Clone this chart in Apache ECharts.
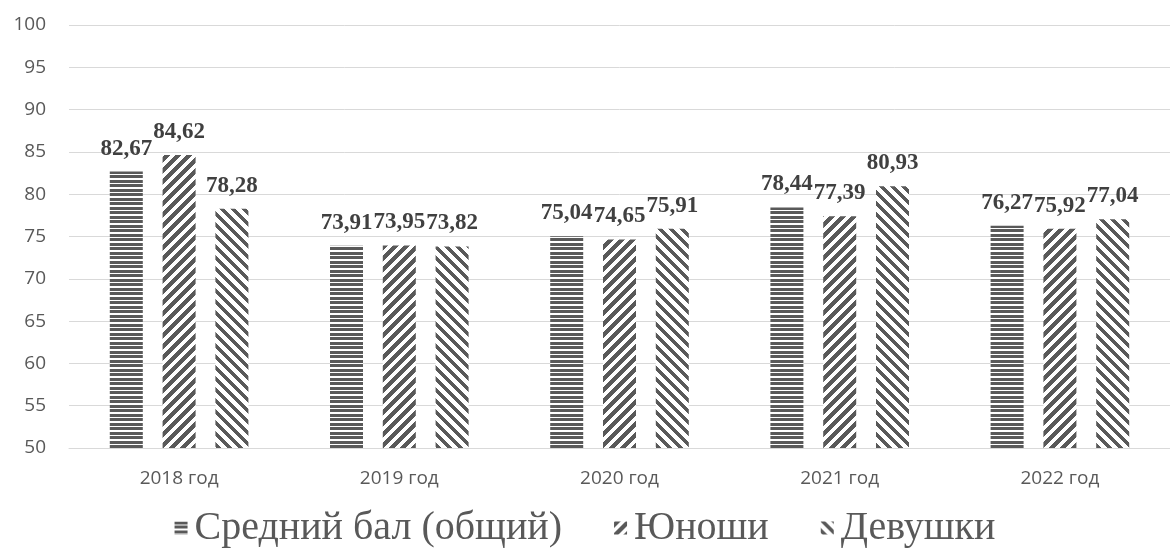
<!DOCTYPE html>
<html>
<head>
<meta charset="utf-8">
<style>
  html, body { margin: 0; padding: 0; background: #ffffff; }
  #chart { width: 1170px; height: 556px; }
</style>
<script src="https://cdn.jsdelivr.net/npm/echarts@6/dist/echarts.min.js"></script>
</head>
<body>
<div id="chart"></div>
<script>
// Years on the category axis
const categories = ['2018 год', '2019 год', '2020 год', '2021 год', '2022 год'];

// Series names (legend)
const seriesNames = ['Средний бал (общий)', 'Юноши', 'Девушки'];

// Average scores per year
const avgAll   = [82.67, 73.91, 75.04, 78.44, 76.27];
const avgBoys  = [84.62, 73.95, 74.65, 77.39, 75.92];
const avgGirls = [78.28, 73.82, 75.91, 80.93, 77.04];

// Value axis range
const yMin = 50;
const yMax = 100;
const yStep = 5;

const INK = '#595959';

// Build a repeating pixel pattern; test(x, y) decides whether a pixel is dark
function makePattern(size, test) {
  const c = document.createElement('canvas');
  c.width = size; c.height = size;
  const ctx = c.getContext('2d');
  ctx.fillStyle = '#ffffff';
  ctx.fillRect(0, 0, size, size);
  ctx.fillStyle = INK;
  for (let y = 0; y < size; y++) {
    for (let x = 0; x < size; x++) {
      if (test(x, y)) ctx.fillRect(x, y, 1, 1);
    }
  }
  return { image: c, repeat: 'repeat' };
}

// Horizontal stripes of uneven thickness
const stripeRows = [1, 1, 1, 0, 1, 1, 1, 0, 0];
const patHorizontal = makePattern(9, (x, y) => stripeRows[y % 9] === 1);
// Wide upward diagonal "/"
const patUp = makePattern(11, (x, y) => ((x + y) % 11) < 6);
// Wide downward diagonal "\"
const patDown = makePattern(11, (x, y) => (((x - y) % 11) + 11) % 11 < 5);

const patterns = [patHorizontal, patUp, patDown];
const values = [avgAll, avgBoys, avgGirls];

const fmt = v => v.toFixed(2).replace('.', ',');

const chart = echarts.init(document.getElementById('chart'), null, { renderer: 'canvas' });

chart.setOption({
  animation: false,
  backgroundColor: '#ffffff',
  grid: { left: 69, top: 25, width: 1112, height: 423 },
  legend: {
    left: 'center',
    top: 503,
    itemWidth: 13,
    itemHeight: 13,
    itemGap: 52,
    icon: 'rect',
    textStyle: {
      fontFamily: 'Liberation Serif',
      fontSize: 40,
      color: INK,
      padding: [0, 0, 0, 2]
    },
    data: seriesNames
  },
  xAxis: {
    type: 'category',
    data: categories,
    axisLine: { show: true, lineStyle: { color: '#d9d9d9', width: 1 } },
    axisTick: { show: false },
    axisLabel: {
      margin: 21,
      fontFamily: 'Open Sans',
      fontSize: 19,
      color: INK
    }
  },
  yAxis: {
    type: 'value',
    min: yMin,
    max: yMax,
    interval: yStep,
    axisLine: { show: false },
    axisTick: { show: false },
    splitLine: { lineStyle: { color: '#d9d9d9', width: 1 } },
    axisLabel: {
      margin: 23,
      fontFamily: 'Open Sans',
      fontSize: 19,
      color: INK
    }
  },
  series: seriesNames.map((name, i) => ({
    name: name,
    type: 'bar',
    data: values[i],
    barWidth: 33,
    barGap: '60%',
    itemStyle: { color: patterns[i] },
    label: {
      show: true,
      position: 'top',
      distance: 11,
      formatter: p => fmt(p.value),
      fontFamily: 'Liberation Serif',
      fontWeight: 'bold',
      fontSize: 23,
      lineHeight: 24,
      color: '#404040'
    }
  }))
});
</script>
</body>
</html>
